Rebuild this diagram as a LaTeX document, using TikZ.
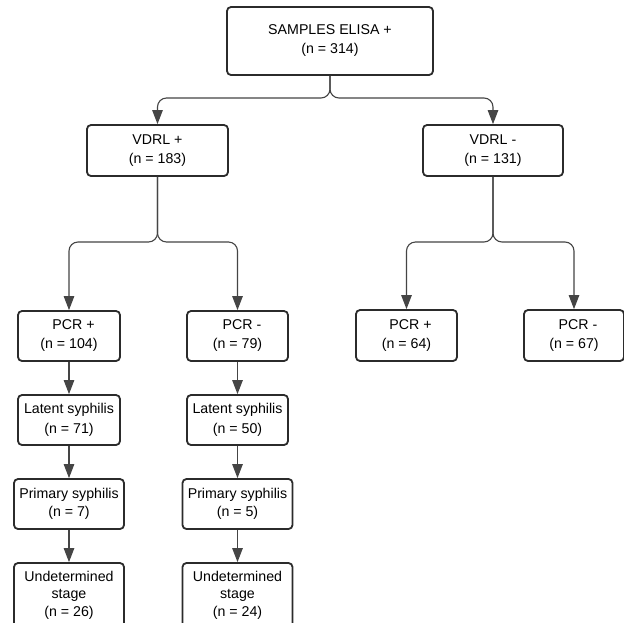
\documentclass[tikz,border=0pt]{standalone}
\usepackage{fontspec}
\setmainfont{Liberation Sans}
\usetikzlibrary{arrows.meta}
\definecolor{boxline}{HTML}{2B2B2B}
\definecolor{connline}{HTML}{454545}
\begin{document}
\begin{tikzpicture}[x=1pt,y=-1pt,
  box/.style={draw=boxline,line width=1.8pt,rounded corners=4pt,align=center,
    inner sep=0pt,font=\fontsize{14.2}{19}\selectfont,text=black},
  conn/.style={draw=connline,line width=1.1pt,rounded corners=9pt,
    -{Triangle[length=14pt,width=10.5pt]}},
  straight/.style={draw=connline,line width=1.1pt,
    -{Triangle[length=14pt,width=10.5pt]}}]
\useasboundingbox (0,0) rectangle (624,622);
\fill[white] (0,0) rectangle (624,622);
% top
\node[box,minimum width=206pt,minimum height=68pt] (top) at (330,41) {SAMPLES ELISA +\\(n = 314)};
% VDRL
\node[box,minimum width=141pt,minimum height=51pt] (v1) at (157.5,150.5) {VDRL +\\(n = 183)};
\node[box,minimum width=140pt,minimum height=51pt] (v2) at (493,150.5) {VDRL -\\(n = 131)};
% PCR
\node[box,minimum width=102pt,minimum height=50pt] (p1) at (69,336) {\hspace*{9pt}PCR +\\(n = 104)};
\node[box,minimum width=101pt,minimum height=50pt] (p2) at (237.5,336) {\hspace*{9pt}PCR -\\(n = 79)};
\node[box,minimum width=101pt,minimum height=51pt] (p3) at (406.5,335.5) {\hspace*{8pt}PCR +\\(n = 64)};
\node[box,minimum width=100pt,minimum height=51pt] (p4) at (574,335.5) {\hspace*{8pt}PCR -\\(n = 67)};
% Latent
\node[box,minimum width=102pt,minimum height=50pt,font=\fontsize{14.2}{20}\selectfont] (l1) at (69,420) {Latent syphilis\\(n = 71)};
\node[box,minimum width=101pt,minimum height=50pt,font=\fontsize{14.2}{20}\selectfont] (l2) at (237.5,420) {Latent syphilis\\(n = 50)};
% Primary
\node[box,minimum width=110pt,minimum height=50pt,font=\fontsize{14.2}{18}\selectfont] (r1) at (69,504) {Primary syphilis\\(n = 7)};
\node[box,minimum width=110pt,minimum height=50pt,font=\fontsize{14.2}{18}\selectfont] (r2) at (237.5,504) {Primary syphilis\\(n = 5)};
% Undetermined
\node[box,minimum width=110pt,minimum height=64pt,font=\fontsize{14.2}{17.5}\selectfont] (u1) at (69,595) {Undetermined\\stage\\(n = 26)};
\node[box,minimum width=110pt,minimum height=64pt,font=\fontsize{14.2}{17.5}\selectfont] (u2) at (237.5,595) {Undetermined\\stage\\(n = 24)};
% split points
\coordinate (s0) at (330,98);
\coordinate (s1) at (157.5,242);
\coordinate (s2) at (493,242);
% connectors
\draw[conn] (top.south) -- (s0) -| (v1.north);
\draw[conn] (top.south) -- (s0) -| (v2.north);
\draw[conn] (v1.south) -- (s1) -| (p1.north);
\draw[conn] (v1.south) -- (s1) -| (p2.north);
\draw[conn] (v2.south) -- (s2) -| (p3.north);
\draw[conn] (v2.south) -- (s2) -| (p4.north);
\draw[straight] (p1.south) -- (l1.north);
\draw[straight] (p2.south) -- (l2.north);
\draw[straight] (l1.south) -- (r1.north);
\draw[straight] (l2.south) -- (r2.north);
\draw[straight] (r1.south) -- (u1.north);
\draw[straight] (r2.south) -- (u2.north);
\end{tikzpicture}
\end{document}
